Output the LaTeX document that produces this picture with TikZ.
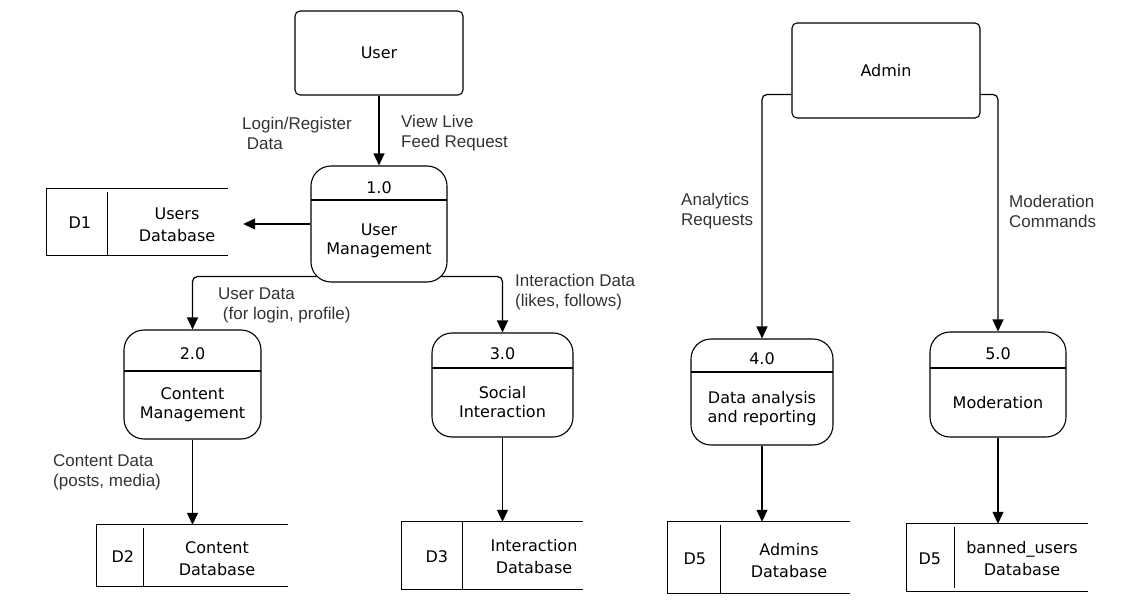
\documentclass[tikz,border=0pt]{standalone}
\usepackage{fontspec}
\setmainfont{DejaVu Sans}
\newfontfamily\lblfont{Liberation Sans}
\usetikzlibrary{arrows.meta,positioning,calc}
\definecolor{lblgray}{HTML}{333333}

\begin{document}
\begin{tikzpicture}[x=1pt,y=-1pt,
  ent/.style={draw,line width=1.1pt,rounded corners=5pt,inner sep=0pt,font=\fontsize{16}{19}\selectfont},
  proc/.style={draw,line width=1.1pt,rounded corners=20pt,inner sep=0pt,
    path picture={\draw[line width=1.1pt] ([yshift=-#1]path picture bounding box.north west) -- ([yshift=-#1]path picture bounding box.north east);}},
  proc/.default=35pt,
  ptxt/.style={font=\fontsize{16}{19}\selectfont,align=center,inner sep=0pt},
  stxt/.style={font=\fontsize{16}{22}\selectfont,align=center,inner sep=0pt},
  store/.style={inner sep=0pt},
  storeline/.style={line width=1.1pt},
  lbl/.style={font=\lblfont\fontsize{17}{20}\selectfont,text=lblgray,align=left,anchor=west,inner sep=0pt},
  arr/.style={-{Triangle[length=12pt,width=11pt]},line width=1.2pt,rounded corners=5pt}
]
\useasboundingbox (0,0) rectangle (1129,609);

% external entities
\node[ent,minimum width=168pt,minimum height=84pt] (user) at (379,53) {User};
\node[ent,minimum width=188pt,minimum height=95pt] (admin) at (886,70.5) {Admin};

% processes
\node[proc=34pt,minimum width=136pt,minimum height=116pt] (p1) at (379,224) {};
\node[ptxt] (p1num) at ($(p1.north)+(0,22)$) {1.0};
\node[ptxt] (p1txt) at ($(p1.center)+(0,17)$) {User\\Management};

\node[proc=41pt,minimum width=137pt,minimum height=109pt] (p2) at (192.5,384.5) {};
\node[ptxt] (p2num) at ($(p2.north)+(0,24.5)$) {2.0};
\node[ptxt] (p2txt) at ($(p2.center)+(0,20.5)$) {Content\\Management};

\node[proc=35pt,minimum width=141pt,minimum height=104pt] (p3) at (502.5,385) {};
\node[ptxt] (p3num) at ($(p3.north)+(0,21.5)$) {3.0};
\node[ptxt] (p3txt) at ($(p3.center)+(0,17.5)$) {Social\\Interaction};

\node[proc=33pt,minimum width=142pt,minimum height=106pt] (p4) at (762,392) {};
\node[ptxt] (p4num) at ($(p4.north)+(0,20.5)$) {4.0};
\node[ptxt] (p4txt) at ($(p4.center)+(0,16.5)$) {Data analysis\\and reporting};

\node[proc=36pt,minimum width=136pt,minimum height=105pt] (p5) at (998,384.5) {};
\node[ptxt] (p5num) at ($(p5.north)+(0,22.5)$) {5.0};
\node[ptxt] (p5txt) at ($(p5.center)+(0,18)$) {Moderation};

% data stores
\node[store,minimum width=181pt,minimum height=66pt] (d1) at (137.5,222) {};
\draw[storeline] (d1.north east) -- (d1.north west) -- (d1.south west) -- (d1.south east);
\draw[storeline] ([xshift=61pt,yshift=-3pt]d1.north west) -- ([xshift=61pt]d1.south west);
\node[ptxt] (d1id) at ([xshift=33pt,yshift=-1pt]d1.west) {D1};
\node[stxt] (d1txt) at ([xshift=39.5pt,yshift=-3pt]d1.center) {Users\\Database};

\node[store,minimum width=191pt,minimum height=61pt] (d2) at (192.5,555.5) {};
\draw[storeline] (d2.north east) -- (d2.north west) -- (d2.south west) -- (d2.south east);
\draw[storeline] ([xshift=47pt,yshift=-3pt]d2.north west) -- ([xshift=47pt]d2.south west);
\node[ptxt] (d2id) at ([xshift=26pt,yshift=-1pt]d2.west) {D2};
\node[stxt] (d2txt) at ([xshift=24.5pt,yshift=-3pt]d2.center) {Content\\Database};

\node[store,minimum width=181pt,minimum height=67pt] (d3) at (492.5,555.5) {};
\draw[storeline] (d3.north east) -- (d3.north west) -- (d3.south west) -- (d3.south east);
\draw[storeline] ([xshift=61pt]d3.north west) -- ([xshift=61pt]d3.south west);
\node[ptxt] (d3id) at ([xshift=35pt,yshift=-1pt]d3.west) {D3};
\node[stxt] (d3txt) at ([xshift=41.5pt,yshift=-1pt]d3.center) {Interaction\\Database};

\node[store,minimum width=182pt,minimum height=71pt] (d5a) at (759,557.5) {};
\draw[storeline] (d5a.north east) -- (d5a.north west) -- (d5a.south west) -- (d5a.south east);
\draw[storeline] ([xshift=53pt,yshift=-3pt]d5a.north west) -- ([xshift=53pt]d5a.south west);
\node[ptxt] (d5aid) at ([xshift=27pt,yshift=-1pt]d5a.west) {D5};
\node[stxt] (d5atxt) at ([xshift=30pt,yshift=-3pt]d5a.center) {Admins\\Database};

\node[store,minimum width=181pt,minimum height=67pt] (d5b) at (997.5,557.5) {};
\draw[storeline] (d5b.north east) -- (d5b.north west) -- (d5b.south west) -- (d5b.south east);
\draw[storeline] ([xshift=48pt,yshift=-3pt]d5b.north west) -- ([xshift=48pt,yshift=3pt]d5b.south west);
\node[ptxt] (d5bid) at ([xshift=23pt,yshift=-1pt]d5b.west) {D5};
\node[stxt] (d5btxt) at ([xshift=24.5pt,yshift=-1pt]d5b.center) {banned\_users\\Database};

% data flows
\coordinate (d1in) at ([xshift=15pt]d1.east);
\draw[arr] (user.south) -- (p1.north);
\draw[arr] (p1.west) -- (p1.west -| d1in);
\draw[arr] ([xshift=6pt,yshift=6pt]p1.south west) -| (p2.north);
\draw[arr] ([xshift=-6pt,yshift=6pt]p1.south east) -| (p3.north);
\draw[arr] ([yshift=-24pt]admin.west) -| (p4.north);
\draw[arr] ([yshift=-24pt]admin.east) -| (p5.north);
\draw[arr] (p2.south) -- (p2.south |- d2.north);
\draw[arr] (p3.south) -- (p3.south |- d3.north);
\draw[arr] (p4.south) -- (p4.south |- d5a.north);
\draw[arr] (p5.south) -- (p5.south |- d5b.north);

% flow labels
\node[lbl] (l1) at (242,133.5) {Login/Register\\\ Data};
\node[lbl] (l2) at (401,133.5) {View Live\\Feed Request};
\node[lbl] (l3) at (218,305) {User Data\\\ (for login, profile)};
\node[lbl] (l4) at (515,292.5) {Interaction Data\\(likes, follows)};
\node[lbl] (l5) at (53,472) {Content Data\\(posts, media)};
\node[lbl] (l6) at (681,211.5) {Analytics\\Requests};
\node[lbl] (l7) at (1009,211.5) {Moderation\\Commands};
\end{tikzpicture}
\end{document}
